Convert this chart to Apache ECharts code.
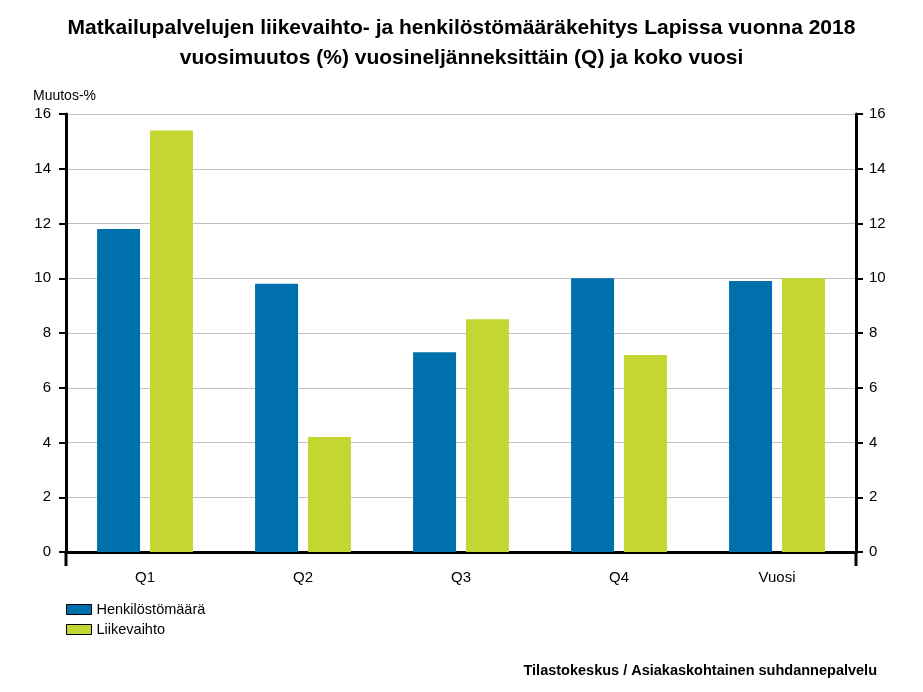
<!DOCTYPE html>
<html><head><meta charset="utf-8">
<script src="https://cdn.jsdelivr.net/npm/echarts@6/dist/echarts.min.js"></script>
<style>html,body{margin:0;padding:0;background:#fff}#c{width:923px;height:692px}</style>
</head><body><div id="c"></div>
<script>
var categories = ['Q1', 'Q2', 'Q3', 'Q4', 'Vuosi'];
var henkilostomaara = [11.8, 9.8, 7.3, 10.0, 9.9];
var liikevaihto = [15.4, 4.2, 8.5, 7.2, 10.0];
var seriesNames = ['Henkilöstömäärä', 'Liikevaihto'];
var yTicks = [0, 2, 4, 6, 8, 10, 12, 14, 16];

var chart = echarts.init(document.getElementById('c'), null, {renderer: 'canvas'});
var font = 'Arial, "Liberation Sans", sans-serif';
function yAxis(pos) {
  return {
    type: 'value', position: pos, min: yTicks[0], max: yTicks[yTicks.length - 1], interval: 2,
    axisLine: {show: true, lineStyle: {color: '#000', width: 3}},
    axisTick: {show: true, length: 7, lineStyle: {color: '#000', width: 2}},
    axisLabel: {color: '#000', fontSize: 15, fontFamily: font, margin: pos === 'left' ? 15 : 13},
    splitLine: {show: pos === 'left', lineStyle: {color: '#c0c0c0', width: 1}}
  };
}
chart.setOption({
  animation: false,
  backgroundColor: '#fff',
  title: [
    {text: 'Matkailupalvelujen liikevaihto- ja henkilöstömääräkehitys Lapissa vuonna 2018\nvuosimuutos (%) vuosineljänneksittäin (Q) ja koko vuosi',
     left: 'center', top: 13, padding: 0,
     textStyle: {fontSize: 21, fontWeight: 'bold', fontFamily: font, color: '#000', lineHeight: 30}},
    {text: 'Muutos-%', left: 33, top: 89, padding: 0, textStyle: {fontSize: 14, fontWeight: 'normal', fontFamily: font, color: '#000'}},
    {text: 'Tilastokeskus / Asiakaskohtainen suhdannepalvelu', right: 46, top: 663, padding: 0,
     textStyle: {fontSize: 14.5, fontWeight: 'bold', fontFamily: font, color: '#000'}}
  ],
  legend: {
    orient: 'vertical', left: 66, top: 602, padding: 0, itemWidth: 25, itemHeight: 10, itemGap: 5,
    icon: 'rect',
    textStyle: {fontSize: 14.5, fontFamily: font, color: '#000'},
    data: seriesNames.map(function (n) { return {name: n, itemStyle: {borderColor: '#000', borderWidth: 1}}; })
  },
  grid: {left: 66, right: 67, top: 114, bottom: 140, containLabel: false},
  xAxis: {
    type: 'category', data: categories,
    axisLine: {lineStyle: {color: '#000', width: 3}},
    axisTick: {alignWithLabel: true, length: 10, lineStyle: {color: '#000', width: 2}},
    axisLabel: {color: '#000', fontSize: 15, fontFamily: font, margin: 18}
  },
  yAxis: [yAxis('left'), yAxis('right')],
  graphic: [
    {type: 'line', shape: {x1: 66, y1: 552, x2: 66, y2: 566}, style: {stroke: '#000', lineWidth: 3}},
    {type: 'line', shape: {x1: 856, y1: 552, x2: 856, y2: 566}, style: {stroke: '#000', lineWidth: 3}}
  ],
  series: [
    {name: seriesNames[0], type: 'bar', data: henkilostomaara, barWidth: 43, barGap: '23%',
     itemStyle: {color: '#0070ad'}},
    {name: seriesNames[1], type: 'bar', data: liikevaihto, barWidth: 43,
     itemStyle: {color: '#c3d631'}}
  ]
});
</script></body></html>
